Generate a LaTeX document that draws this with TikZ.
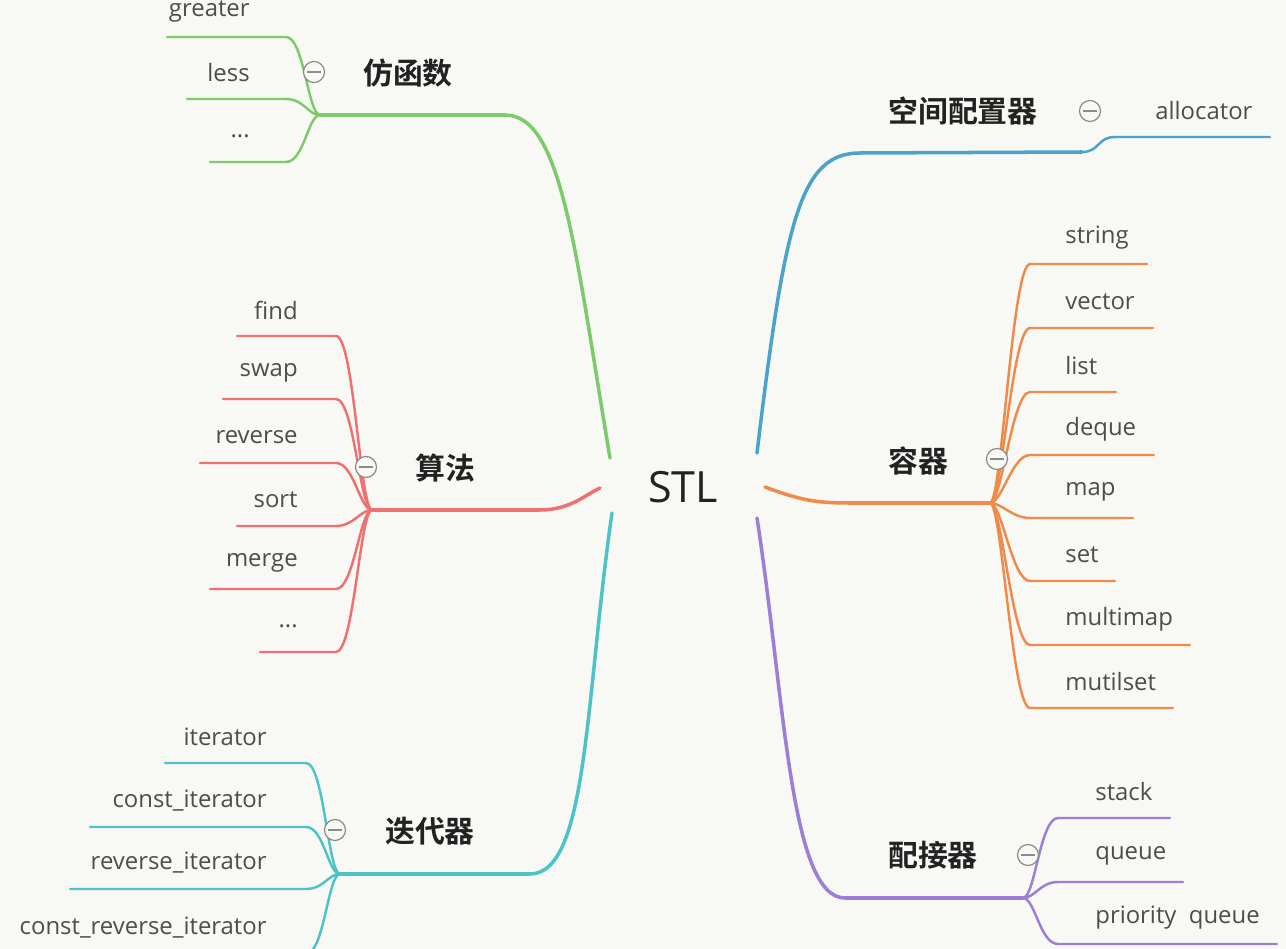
\documentclass[tikz,border=0pt]{standalone}
\usepackage{fontspec}
\setmainfont{Open Sans}
\newfontfamily\cjk{Noto Sans CJK SC}[BoldFont={Noto Sans CJK SC Bold}]
\usetikzlibrary{positioning, calc}

\definecolor{paper}{HTML}{F8F8F5}
\definecolor{mgreen}{HTML}{7CCB6A}
\definecolor{mblue}{HTML}{4BA3CB}
\definecolor{morange}{HTML}{F08A4B}
\definecolor{mred}{HTML}{EE7070}
\definecolor{mcyan}{HTML}{4DC3C6}
\definecolor{mpurple}{HTML}{9B7FD6}
\definecolor{leafgray}{HTML}{4D4D4D}
\definecolor{topicgray}{HTML}{222222}

\newcommand{\moredots}{...}

\begin{document}
\begin{tikzpicture}[x=0.02cm, y=-0.02cm,
    main/.style={line width=2pt, line cap=round},
    sub/.style={line width=1.4pt, line cap=round},
    leaf/.style={font=\fontsize{13.6}{15}\selectfont, text=leafgray, inner sep=0pt},
    topic/.style={font=\cjk\bfseries\fontsize{17}{20}\selectfont, text=topicgray, inner sep=0pt},
    fold/.style={circle, draw=gray!90, fill=paper, line width=0.7pt, minimum size=0.42cm, inner sep=0pt,
        path picture={\draw[gray!90, line width=0.7pt] ([xshift=2.2pt]path picture bounding box.west) -- ([xshift=-2.2pt]path picture bounding box.east);}}]

    \fill[paper] (0,0) rectangle (1286,949);
    \useasboundingbox (0,0) rectangle (1286,949);

    \node[font=\fontsize{24.5}{28}\selectfont, text=topicgray] (stl) at (683,487) {STL};

    % start points around the centre
    \coordinate (stl-g) at (610,458);
    \coordinate (stl-r) at (600,488);
    \coordinate (stl-c) at (612,513);
    \coordinate (stl-b) at (757,453);
    \coordinate (stl-o) at (765,487);
    \coordinate (stl-p) at (757,518);

    % hubs
    \coordinate (ghub) at (320,115);
    \coordinate (rhub) at (372,510);
    \coordinate (chub) at (340,874);
    \coordinate (bhub) at (1082,152);
    \coordinate (ohub) at (990,503);
    \coordinate (phub) at (1023,898);

    \draw[main, mgreen] (stl-g) .. controls (575,250) and (562,115) .. (505,115) -- (ghub);
    \draw[main, mred] (stl-r) .. controls (585,495) and (570,510) .. (540,510) -- (rhub);
    \draw[main, mcyan] (stl-c) .. controls (585,700) and (588,874) .. (530,874) -- (chub);
    \draw[main, mblue] (stl-b) .. controls (785,220) and (800,153) .. (860,153) -- (bhub);
    \draw[main, morange] (stl-o) .. controls (800,500) and (815,503) .. (850,503) -- (ohub);
    \draw[main, mpurple] (stl-p) .. controls (785,700) and (790,898) .. (845,898) -- (phub);

    \node[topic] (functor) at (408,73) {仿函数};
    \node[topic] (alloc) at (963,111) {空间配置器};
    \node[topic] (cont) at (918,461) {容器};
    \node[topic] (algo) at (445,468) {算法};
    \node[topic] (iter) at (430,831) {迭代器};
    \node[topic] (adapt) at (933,855) {配接器};

    % left side leaves
    \foreach \name/\y/\xe/\txt in {greater/37/167/greater, less/99/187/less, gdots/162/210/\moredots} {
        \coordinate (\name-b) at (286,\y);
        \coordinate (\name-e) at (\xe,\y);
        \draw[sub, mgreen] (ghub) .. controls +(-12,0) and +(18,0) .. (\name-b) -- (\name-e);
        \node[leaf, anchor=east] (\name) at (250,{\y-26}) {\txt};
    }
    \foreach \name/\y/\xe/\txt in {find/336/237/find, swap/399/223/swap, reverse/463/200/reverse,
                                   sort/526/237/sort, merge/589/210/merge, rdots/652/260/\moredots} {
        \coordinate (\name-b) at (336,\y);
        \coordinate (\name-e) at (\xe,\y);
        \draw[sub, mred] (rhub) .. controls +(-12,0) and +(18,0) .. (\name-b) -- (\name-e);
        \node[leaf, anchor=east] (\name) at (298,{\y-26}) {\txt};
    }
    \foreach \name/\y/\xe/\txt in {it/763/165/iterator, cit/827/90/const\_iterator,
                                   rit/889/70/reverse\_iterator, crit/954/0/const\_reverse\_iterator} {
        \coordinate (\name-b) at (306,\y);
        \coordinate (\name-e) at (\xe,\y);
        \draw[sub, mcyan] (chub) .. controls +(-12,0) and +(18,0) .. (\name-b) -- (\name-e);
        \node[leaf, anchor=east] (\name) at (267,{\y-26}) {\txt};
    }

    % right side leaves
    \coordinate (allocator-b) at (1115,137);
    \coordinate (allocator-e) at (1270,137);
    \draw[sub, mblue] (bhub) .. controls +(18,0) and +(-18,0) .. (allocator-b) -- (allocator-e);
    \node[leaf, anchor=west] (allocator) at (1155,111) {allocator};

    \foreach \name/\y/\xe in {string/264/1147, vector/328/1153, list/392/1116, deque/455/1154,
                              map/518/1133, set/581/1115, multimap/645/1190, mutilset/708/1173} {
        \coordinate (\name-b) at (1030,\y);
        \coordinate (\name-e) at (\xe,\y);
        \draw[sub, morange] (ohub) .. controls +(12,0) and +(-18,0) .. (\name-b) -- (\name-e);
        \node[leaf, anchor=west] (\name) at (1065,{\y-26}) {\name};
    }
    \foreach \name/\y/\xe/\txt in {stack/818/1170/stack, queue/882/1183/queue, pqueue/944/1277/priority\ \ queue} {
        \coordinate (\name-b) at (1058,\y);
        \coordinate (\name-e) at (\xe,\y);
        \draw[sub, mpurple] (phub) .. controls +(12,0) and +(-18,0) .. (\name-b) -- (\name-e);
        \node[leaf, anchor=west] (\name) at (1095,{\y-26}) {\txt};
    }

    % fold markers
    \node[fold] (fold-g) at (314,72) {};
    \node[fold] (fold-b) at (1090,111) {};
    \node[fold] (fold-o) at (997,459) {};
    \node[fold] (fold-r) at (366,467) {};
    \node[fold] (fold-c) at (335,830) {};
    \node[fold] (fold-p) at (1028,855) {};

\end{tikzpicture}
\end{document}
